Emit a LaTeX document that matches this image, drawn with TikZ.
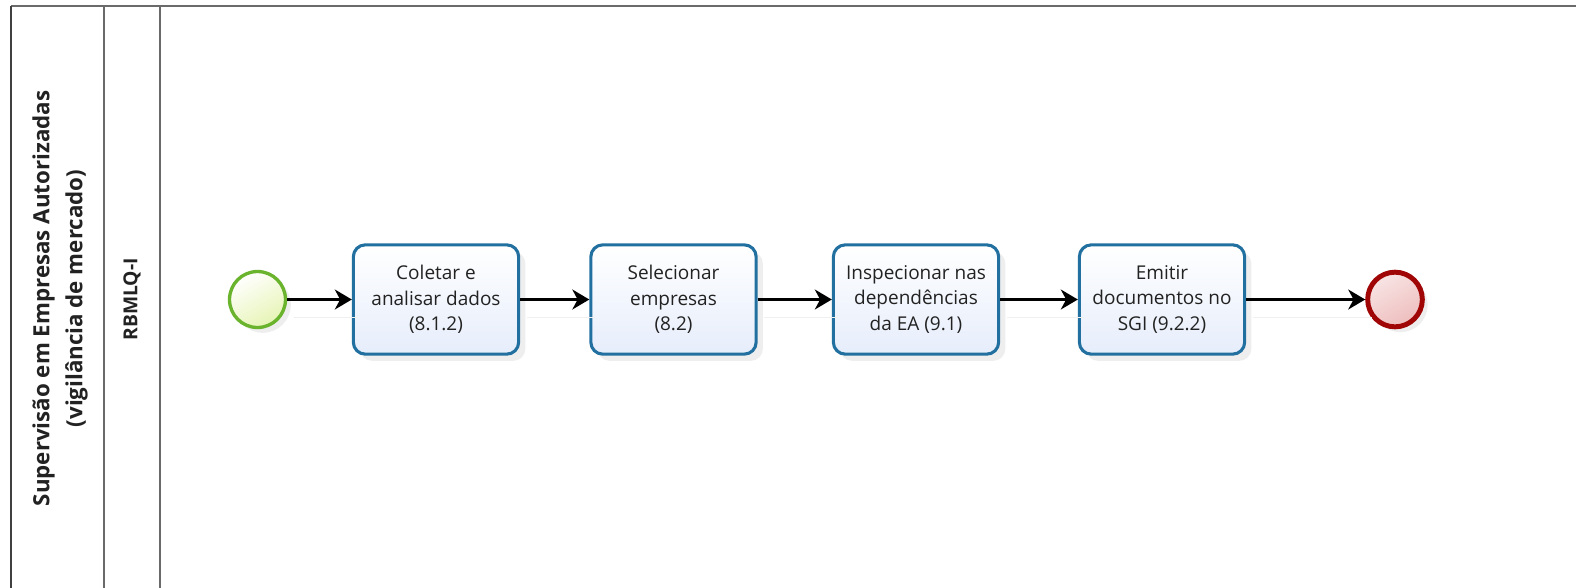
\documentclass[tikz,border=0pt]{standalone}
\usepackage{fontspec}
\setmainfont{Open Sans}
\usetikzlibrary{arrows.meta,shadows}
\definecolor{poolline}{HTML}{6A6A6A}
\definecolor{pooldark}{HTML}{404040}
\definecolor{taskborder}{HTML}{22709F}
\definecolor{taskbot}{HTML}{E6EDFB}
\definecolor{startborder}{HTML}{6AB42D}
\definecolor{startfill}{HTML}{E6F4B4}
\definecolor{endborder}{HTML}{A00606}
\definecolor{endfill}{HTML}{EEBDBD}
\definecolor{txt}{HTML}{222222}
\tikzset{
  pool/.style={draw=poolline, line width=1.5bp},
  taskbox/.style={draw=taskborder, line width=2.3bp, rounded corners=9bp,
    top color=white, bottom color=taskbot, minimum width=124bp, minimum height=82bp,
    inner sep=0pt, align=center, text=txt, font=\fontsize{14.3}{19.1}\selectfont,
    drop shadow={opacity=0.13, shadow xshift=5bp, shadow yshift=-5bp}},
  startev/.style={circle, draw=startborder, line width=2.5bp, minimum size=42bp, inner sep=0pt,
    shading=axis, top color=white, bottom color=startfill, shading angle=30,
    drop shadow={opacity=0.13, shadow xshift=4bp, shadow yshift=-4bp}},
  endev/.style={circle, draw=endborder, line width=3.7bp, minimum size=41bp, inner sep=0pt,
    shading=axis, top color=white!60!endfill, bottom color=endfill, shading angle=30,
    drop shadow={opacity=0.13, shadow xshift=4bp, shadow yshift=-4bp}},
  flow/.style={line width=1.6bp, -{Stealth[length=12.75bp,width=15bp,inset=4bp]},
    preaction={draw=black!6, line width=1bp, -, transform canvas={xshift=5bp,yshift=-13.5bp}}},
  pooltitle/.style={rotate=90, font=\bfseries\fontsize{16.8}{24.8}\selectfont, align=center, text=txt},
  lanetitle/.style={rotate=90, font=\bfseries\fontsize{14.5}{16}\selectfont, text=txt}
}
\begin{document}
\begin{tikzpicture}[x=0.75bp,y=-0.75bp]
\useasboundingbox (0,0) rectangle (1576,587);
\fill[white] (0,0) rectangle (1576,587);
% pool and lane lines
\draw[pool] (1590,6) -- (11,6);
\draw[pool, draw=pooldark] (11,6) -- (11,600);
\draw[pool] (104,6) -- (104,600);
\draw[pool] (160,6) -- (160,600);
\node[pooltitle] (pt) at (60,298.5) {Supervisão em Empresas Autorizadas\\(vigilância de mercado)};
\node[lanetitle] (lt) at (132,299.5) {RBMLQ-I};
% events and tasks
\node[startev] (s) at (257.5,299.5) {};
\node[taskbox] (t1) at (436,299.5) {Coletar e\\analisar dados\\(8.1.2)};
\node[taskbox] (t2) at (673.5,299.5) {Selecionar\\empresas\\(8.2)};
\node[taskbox] (t3) at (916,299.5) {Inspecionar nas\\dependências\\da EA (9.1)};
\node[taskbox] (t4) at (1162,299.5) {Emitir\\documentos no\\SGI (9.2.2)};
\node[endev] (e) at (1395,299.5) {};
% flows
\draw[flow] (s) -- (t1);
\draw[flow] (t1) -- (t2);
\draw[flow] (t2) -- (t3);
\draw[flow] (t3) -- (t4);
\draw[flow] (t4) -- (e);
\end{tikzpicture}
\end{document}
